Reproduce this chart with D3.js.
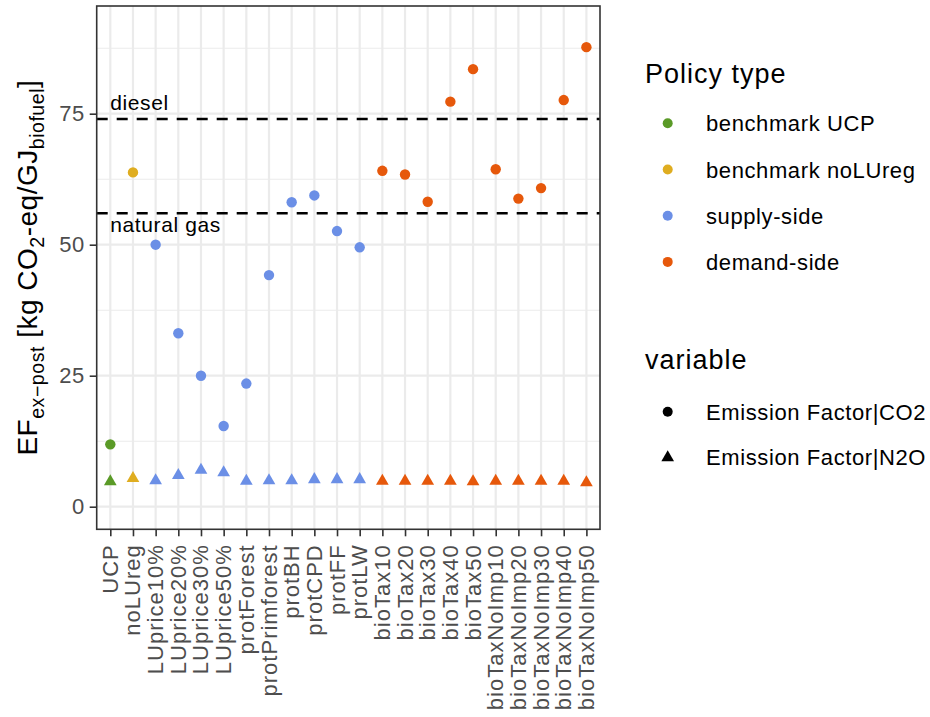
<!DOCTYPE html>
<html>
<head>
<meta charset="utf-8">
<script src="https://cdn.jsdelivr.net/npm/d3@7"></script>
<style>
  body { margin: 0; background: #ffffff; }
  text { font-family: "Liberation Sans", Arial, sans-serif; }
</style>
</head>
<body>
<div id="graph-holder"></div>
<script>
// scenario names along the x axis
var categories = [
  "UCP", "noLUreg", "LUprice10%", "LUprice20%", "LUprice30%", "LUprice50%",
  "protForest", "protPrimforest", "protBH", "protCPD", "protFF", "protLW",
  "bioTax10", "bioTax20", "bioTax30", "bioTax40", "bioTax50",
  "bioTaxNoImp10", "bioTaxNoImp20", "bioTaxNoImp30", "bioTaxNoImp40", "bioTaxNoImp50"
];

// policy type of each scenario
var policyOfCategory = [
  "benchmark UCP", "benchmark noLUreg",
  "supply-side", "supply-side", "supply-side", "supply-side",
  "supply-side", "supply-side", "supply-side", "supply-side", "supply-side", "supply-side",
  "demand-side", "demand-side", "demand-side", "demand-side", "demand-side",
  "demand-side", "demand-side", "demand-side", "demand-side", "demand-side"
];

// Emission Factor|CO2 values
var co2Values = [
  11.9, 63.8, 50.0, 33.1, 25.0, 15.4, 23.5, 44.2, 58.1, 59.4, 52.6, 49.5,
  64.1, 63.4, 58.2, 77.3, 83.5, 64.4, 58.8, 60.8, 77.6, 87.7
];

// Emission Factor|N2O values
var n2oValues = [
  4.8, 5.4, 5.0, 6.0, 7.0, 6.5, 4.9, 5.0, 5.0, 5.2, 5.2, 5.2,
  4.9, 4.9, 4.9, 4.9, 4.8, 4.9, 4.9, 4.9, 4.9, 4.6
];

// legend entries
var policyTypes = ["benchmark UCP", "benchmark noLUreg", "supply-side", "demand-side"];
var policyColors = ["#5a9a27", "#dfad20", "#6b8fe6", "#e6580b"];
var variables = ["Emission Factor|CO2", "Emission Factor|N2O"];

// reference lines
var refNames = ["diesel", "natural gas"];
var refValues = [74, 56];

// y axis ticks
var yTicks = [0, 25, 50, 75];
var yMinorTicks = [12.5, 37.5, 62.5, 87.5];

var W = 930, H = 717;
var panel = { left: 96.7, right: 600, top: 6, bottom: 529.3 };

var svg = d3
  .select("#graph-holder")
  .append("svg")
  .attr("width", W)
  .attr("height", H);

var x = d3.scalePoint().domain(categories).range([panel.left, panel.right]).padding(0.6);
var y = d3.scaleLinear().domain([-4.31, 95.55]).range([panel.bottom, panel.top]);
var color = d3.scaleOrdinal().domain(policyTypes).range(policyColors);

// grid lines
var grid = svg.append("g");
grid.selectAll(".minor")
  .data(yMinorTicks)
  .enter()
  .append("line")
  .attr("x1", panel.left).attr("x2", panel.right)
  .attr("y1", function (d) { return y(d); })
  .attr("y2", function (d) { return y(d); })
  .attr("stroke", "#ebebeb")
  .attr("stroke-width", 1.1);
grid.selectAll(".major")
  .data(yTicks)
  .enter()
  .append("line")
  .attr("x1", panel.left).attr("x2", panel.right)
  .attr("y1", function (d) { return y(d); })
  .attr("y2", function (d) { return y(d); })
  .attr("stroke", "#ebebeb")
  .attr("stroke-width", 2.2);
grid.selectAll(".vmajor")
  .data(categories)
  .enter()
  .append("line")
  .attr("x1", function (d) { return x(d); })
  .attr("x2", function (d) { return x(d); })
  .attr("y1", panel.top).attr("y2", panel.bottom)
  .attr("stroke", "#ebebeb")
  .attr("stroke-width", 2.2);

// dashed reference lines with their labels
svg.selectAll(".ref")
  .data(refValues)
  .enter()
  .append("line")
  .attr("x1", panel.left).attr("x2", panel.right)
  .attr("y1", function (d) { return y(d); })
  .attr("y2", function (d) { return y(d); })
  .attr("stroke", "#000000")
  .attr("stroke-width", 2.4)
  .attr("stroke-dasharray", "11,9");

svg.append("text")
  .attr("x", x(categories[0]))
  .attr("y", y(refValues[0]) - 9)
  .style("font-size", "21px")
  .style("letter-spacing", "0.6px")
  .text(refNames[0]);
svg.append("text")
  .attr("x", x(categories[0]))
  .attr("y", y(refValues[1]) + 19)
  .style("font-size", "21px")
  .style("letter-spacing", "0.6px")
  .text(refNames[1]);

// points
var pts = categories.map(function (c, i) {
  return { cat: c, policy: policyOfCategory[i], co2: co2Values[i], n2o: n2oValues[i] };
});

svg.append("g")
  .selectAll("circle")
  .data(pts)
  .enter()
  .append("circle")
  .attr("cx", function (d) { return x(d.cat); })
  .attr("cy", function (d) { return y(d.co2); })
  .attr("r", 5.2)
  .attr("fill", function (d) { return color(d.policy); });

var triangle = d3.symbol().type(d3.symbolTriangle).size(70);
svg.append("g")
  .selectAll("path")
  .data(pts)
  .enter()
  .append("path")
  .attr("d", triangle)
  .attr("transform", function (d) { return "translate(" + x(d.cat) + "," + y(d.n2o) + ")"; })
  .attr("fill", function (d) { return color(d.policy); });

// panel border
svg.append("rect")
  .attr("x", panel.left).attr("y", panel.top)
  .attr("width", panel.right - panel.left)
  .attr("height", panel.bottom - panel.top)
  .attr("fill", "none")
  .attr("stroke", "#333333")
  .attr("stroke-width", 1.6);

// y axis
var yAxis = svg.append("g")
  .attr("transform", "translate(" + panel.left + ",0)")
  .call(d3.axisLeft(y).tickValues(yTicks).tickSize(7).tickPadding(5).tickFormat(d3.format("d")));
yAxis.select(".domain").remove();
yAxis.selectAll("line").attr("stroke", "#333333").attr("stroke-width", 1.6);
yAxis.selectAll("text")
  .attr("fill", "#4d4d4d")
  .style("font-size", "22px")
  .style("letter-spacing", "0.5px")
  .style("font-family", "'Liberation Sans', Arial, sans-serif");

// x axis
var xAxis = svg.append("g")
  .attr("transform", "translate(0," + panel.bottom + ")")
  .call(d3.axisBottom(x).tickSize(7).tickFormat(""));
xAxis.select(".domain").remove();
xAxis.selectAll("line").attr("stroke", "#333333").attr("stroke-width", 1.6);
svg.append("g")
  .selectAll("text")
  .data(categories)
  .enter()
  .append("text")
  .attr("transform", function (d) { return "translate(" + (x(d) + 7.5) + "," + (panel.bottom + 15) + ") rotate(-90)"; })
  .attr("text-anchor", "end")
  .attr("fill", "#4d4d4d")
  .style("font-size", "22px")
  .style("letter-spacing", "1px")
  .text(function (d) { return d; });

// y axis title with subscripts
var yTitle = svg.append("text")
  .attr("transform", "translate(37," + ((panel.top + panel.bottom) / 2) + ") rotate(-90)")
  .attr("text-anchor", "middle")
  .style("font-size", "28px")
  .style("letter-spacing", "0.5px");
yTitle.append("tspan").text("EF");
yTitle.append("tspan").attr("dy", 7).style("font-size", "19.6px").text("ex\u2212post");
yTitle.append("tspan").attr("dy", -7).text(" [kg CO");
yTitle.append("tspan").attr("dy", 7).style("font-size", "19.6px").text("2");
yTitle.append("tspan").attr("dy", -7).text("-eq/GJ");
yTitle.append("tspan").attr("dy", 7).style("font-size", "19.6px").text("biofuel");
yTitle.append("tspan").attr("dy", -7).text("]");

// legend: policy type
var leg1 = svg.append("g");
leg1.append("text")
  .attr("x", 645).attr("y", 83)
  .style("font-size", "27px")
  .style("letter-spacing", "1px")
  .text("Policy type");
leg1.selectAll("circle")
  .data(policyTypes)
  .enter()
  .append("circle")
  .attr("cx", 667.7)
  .attr("cy", function (d, i) { return 123.3 + i * 46.2; })
  .attr("r", 5)
  .attr("fill", function (d) { return color(d); });
leg1.selectAll(".lbl")
  .data(policyTypes)
  .enter()
  .append("text")
  .attr("x", 706)
  .attr("y", function (d, i) { return 123.3 + i * 46.2 + 8; })
  .style("font-size", "22px")
  .style("letter-spacing", "0.6px")
  .text(function (d) { return d; });

// legend: variable
var leg2 = svg.append("g");
leg2.append("text")
  .attr("x", 645).attr("y", 369)
  .style("font-size", "27px")
  .style("letter-spacing", "1px")
  .text("variable");
leg2.append("circle")
  .attr("cx", 667.7).attr("cy", 411.7).attr("r", 5).attr("fill", "#000000");
leg2.append("path")
  .attr("d", triangle)
  .attr("transform", "translate(667.7,457.5)")
  .attr("fill", "#000000");
leg2.selectAll(".lbl")
  .data(variables)
  .enter()
  .append("text")
  .attr("x", 706)
  .attr("y", function (d, i) { return 411.7 + i * 45 + 8; })
  .style("font-size", "22px")
  .style("letter-spacing", "0.6px")
  .text(function (d) { return d; });
</script>
</body>
</html>
